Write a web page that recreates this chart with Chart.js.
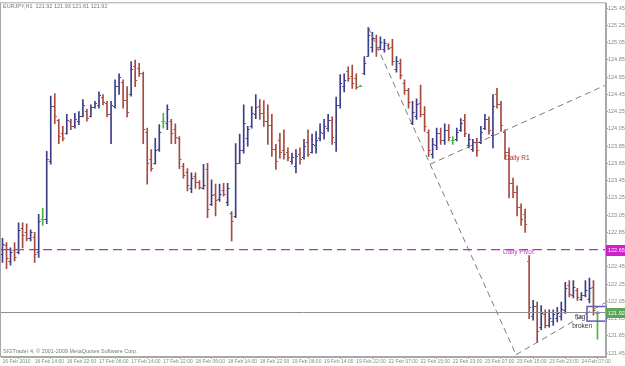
<!DOCTYPE html>
<html>
<head>
<meta charset="utf-8">
<script src="https://cdn.jsdelivr.net/npm/chart.js@4.4.1/dist/chart.umd.min.js"></script>
<style>
  html, body { margin: 0; padding: 0; background: #fff; }
  canvas { display: block; }
</style>
</head>
<body>
<canvas id="myChart" width="625" height="366"></canvas>
<script>
// EURJPY H1 bars, 16 Feb 2010 .. 24 Feb 2010
var opens = [
  122.60, 122.70, 122.52, 122.65, 122.62, 122.90, 122.85, 122.78, 122.80, 122.62,
  123.00, 123.00, 123.68, 124.32, 124.15, 124.00, 124.00, 124.14, 124.08, 124.14,
  124.20, 124.26, 124.20, 124.30, 124.33, 124.42, 124.35, 124.22, 124.32, 124.55,
  124.60, 124.38, 124.45, 124.78, 124.76, 124.70, 124.02, 123.70, 123.66, 123.82,
  124.14, 124.12, 124.14, 124.05, 123.95, 123.62, 123.55, 123.36, 123.50, 123.43,
  123.37, 123.58, 123.18, 123.30, 123.24, 123.34, 123.20, 123.08, 123.04, 123.66,
  123.80, 123.95, 124.08, 124.22, 124.32, 124.24, 124.14, 124.10, 123.82, 123.92,
  123.80, 123.78, 123.68, 123.62, 123.76, 123.72, 123.90, 123.78, 123.86, 123.94,
  124.00, 124.06, 124.15, 123.90, 124.33, 124.55, 124.72, 124.66, 124.64, 124.55,
  124.70, 124.90, 125.00, 125.10, 125.00, 124.98, 125.02, 125.00, 124.74, 124.82,
  124.58, 124.50, 124.12, 124.20, 124.35, 124.22, 124.02, 123.76, 123.86, 124.00,
  123.92, 124.04, 123.92, 123.93, 124.04, 124.15, 123.86, 123.82, 123.90, 123.90,
  124.06, 124.16, 123.98, 124.46, 124.34, 124.02, 123.78, 123.42, 123.32, 123.14,
  123.06, 122.52, 121.88, 122.00, 121.75, 121.90, 121.78, 121.82, 121.86, 121.88,
  121.95, 122.24, 122.12, 122.18, 122.08, 122.12, 122.08, 122.22, 121.92
];
var highs = [
  122.78, 122.73, 122.67, 122.73, 122.96, 122.96, 122.95, 122.88, 122.85, 123.06,
  123.13, 123.79, 124.43, 124.46, 124.16, 124.08, 124.22, 124.16, 124.23, 124.25,
  124.39, 124.28, 124.33, 124.37, 124.48, 124.45, 124.37, 124.37, 124.62, 124.69,
  124.62, 124.54, 124.83, 124.85, 124.81, 124.71, 124.06, 123.81, 123.94, 124.10,
  124.23, 124.33, 124.16, 124.11, 123.96, 123.65, 123.59, 123.54, 123.54, 123.45,
  123.64, 123.65, 123.46, 123.41, 123.41, 123.42, 123.42, 123.09, 123.88, 123.99,
  124.33, 124.08, 124.31, 124.45, 124.39, 124.38, 124.33, 124.22, 123.87, 124.00,
  124.04, 123.83, 123.77, 123.81, 123.83, 123.93, 124.04, 123.99, 124.02, 124.11,
  124.16, 124.22, 124.19, 124.42, 124.68, 124.69, 124.77, 124.79, 124.69, 124.56,
  124.89, 125.23, 125.17, 125.14, 125.12, 125.09, 125.04, 125.09, 124.89, 124.86,
  124.62, 124.52, 124.37, 124.40, 124.56, 124.31, 124.04, 123.94, 124.06, 124.06,
  124.11, 124.10, 123.96, 124.06, 124.17, 124.22, 123.99, 123.93, 123.94, 124.08,
  124.22, 124.19, 124.45, 124.52, 124.37, 124.04, 123.83, 123.48, 123.39, 123.18,
  123.12, 122.58, 122.06, 122.04, 122.00, 121.95, 121.95, 121.95, 121.98, 122.04,
  122.27, 122.29, 122.29, 122.20, 122.15, 122.29, 122.32, 122.29, 121.93
];
var lows = [
  122.50, 122.43, 122.47, 122.52, 122.60, 122.67, 122.75, 122.75, 122.50, 122.56,
  122.93, 122.95, 123.64, 124.11, 123.88, 123.91, 123.99, 124.04, 124.06, 124.10,
  124.19, 124.14, 124.19, 124.29, 124.29, 124.33, 124.19, 123.88, 124.29, 124.45,
  124.29, 124.19, 124.43, 124.54, 124.66, 123.88, 123.41, 123.56, 123.64, 123.79,
  124.06, 124.04, 123.88, 123.88, 123.59, 123.48, 123.33, 123.31, 123.36, 123.35,
  123.35, 123.02, 123.16, 123.04, 123.21, 123.27, 123.16, 122.75, 123.02, 123.65,
  123.77, 123.85, 124.06, 124.17, 124.16, 124.08, 123.87, 123.73, 123.58, 123.71,
  123.70, 123.68, 123.64, 123.54, 123.64, 123.70, 123.73, 123.77, 123.77, 123.91,
  123.93, 124.02, 123.87, 123.79, 124.29, 124.48, 124.60, 124.52, 124.51, 124.54,
  124.68, 124.89, 124.94, 124.89, 124.97, 124.94, 124.97, 124.79, 124.71, 124.63,
  124.45, 124.29, 124.10, 124.16, 124.19, 124.02, 123.73, 123.71, 123.81, 123.87,
  123.87, 123.91, 123.87, 123.91, 124.02, 123.96, 123.83, 123.79, 123.73, 123.88,
  124.04, 123.99, 123.83, 124.29, 124.02, 123.70, 123.25, 123.25, 123.04, 122.93,
  122.85, 121.85, 121.83, 121.57, 121.72, 121.74, 121.75, 121.77, 121.81, 121.83,
  121.91, 122.10, 122.09, 122.06, 122.06, 122.10, 122.03, 121.89, 121.61
];
var closes = [
  122.72, 122.55, 122.62, 122.56, 122.88, 122.82, 122.78, 122.85, 122.60, 122.98,
  123.00, 123.70, 124.32, 124.20, 123.97, 123.94, 124.15, 124.08, 124.17, 124.20,
  124.33, 124.18, 124.30, 124.35, 124.44, 124.36, 124.22, 124.33, 124.55, 124.65,
  124.38, 124.25, 124.75, 124.62, 124.70, 124.05, 123.65, 123.60, 123.80, 124.02,
  124.14, 124.28, 124.00, 123.96, 123.70, 123.52, 123.40, 123.48, 123.44, 123.38,
  123.40, 123.12, 123.28, 123.22, 123.30, 123.30, 123.36, 122.98, 123.65, 123.80,
  124.12, 124.05, 124.24, 124.30, 124.24, 124.14, 124.10, 123.82, 123.68, 123.78,
  123.76, 123.72, 123.72, 123.74, 123.70, 123.85, 123.76, 123.88, 123.92, 124.02,
  124.08, 124.15, 123.96, 124.33, 124.58, 124.62, 124.64, 124.58, 124.54, 124.55,
  124.82, 125.14, 125.10, 124.98, 125.06, 125.05, 124.99, 124.84, 124.84, 124.68,
  124.50, 124.36, 124.25, 124.34, 124.22, 124.08, 123.80, 123.88, 124.00, 123.92,
  124.04, 123.96, 123.92, 124.02, 124.12, 124.00, 123.93, 123.90, 123.80, 124.02,
  124.16, 124.04, 124.32, 124.34, 124.10, 123.78, 123.42, 123.32, 123.14, 123.00,
  122.95, 121.98, 122.00, 121.70, 121.92, 121.78, 121.86, 121.90, 121.92, 121.96,
  122.20, 122.14, 122.22, 122.10, 122.12, 122.18, 122.20, 121.95, 121.92
];

// one time label every 8 hourly bars
var timeLabels = ['16 Feb 2010', '16 Feb 14:00', '16 Feb 22:00', '17 Feb 06:00', '17 Feb 14:00',
  '17 Feb 22:00', '18 Feb 06:00', '18 Feb 14:00', '18 Feb 22:00', '19 Feb 06:00', '19 Feb 14:00',
  '19 Feb 22:00', '22 Feb 07:00', '22 Feb 15:00', '22 Feb 23:00', '23 Feb 07:00', '23 Feb 15:00',
  '23 Feb 23:00', '24 Feb 07:00'];
var priceTicks = [121.45, 121.65, 121.85, 122.05, 122.25, 122.45, 122.65, 122.85, 123.05, 123.25,
  123.45, 123.65, 123.85, 124.05, 124.25, 124.45, 124.65, 124.85, 125.05, 125.25, 125.45];

var pivotLevel = 122.65;
var lastPrice = 121.92;
// trend lines as [bar index, price]
var downLine = [[91, 125.23], [127.74, 121.43]];
var upperChannel = [[106.34, 123.64], [150.12, 124.56]];
var lowerChannel = [[127.74, 121.43], [150.12, 122.04]];

var FONT = "'Liberation Sans', 'DejaVu Sans', sans-serif";
var UP = '#3d3d88', DOWN = '#a64a40', DOJI = '#44b844';

function barColor(i) {
  if (closes[i] > opens[i]) return UP;
  if (closes[i] < opens[i]) return DOWN;
  return DOJI;
}
function pts(arr) {
  return arr.map(function (p) { return {x: p[0], y: p[1]}; });
}

var ctx = document.getElementById('myChart').getContext('2d');

// open/close ticks, frame and the terminal texts
var terminal = {
  id: 'terminal',
  beforeDraw: function (chart) {
    var c = chart.ctx;
    c.save();
    c.fillStyle = '#fff';
    c.fillRect(0, 0, chart.width, chart.height);
    c.restore();
  },
  afterDatasetsDraw: function (chart) {
    var c = chart.ctx, x = chart.scales.x, y = chart.scales.y, a = chart.chartArea;
    c.save();
    opens.forEach(function (o, i) {
      var px = x.getPixelForValue(i);
      c.fillStyle = barColor(i);
      c.fillRect(px - 2, Math.round(y.getPixelForValue(o)), 1.5, 1);
      c.fillRect(px + 0.5, Math.round(y.getPixelForValue(closes[i])), 1.5, 1);
    });

    // flag box
    c.strokeStyle = '#5c5cb4';
    c.lineWidth = 1.5;
    var bx = x.getPixelForValue(145.4), by = y.getPixelForValue(121.99);
    c.strokeRect(bx, by, a.right - bx, y.getPixelForValue(121.82) - by);

    c.font = '6.5px ' + FONT;
    c.textBaseline = 'middle';
    c.textAlign = 'left';
    c.fillStyle = '#b03030';
    c.fillText('Daily R1', x.getPixelForValue(125), y.getPixelForValue(123.71));
    c.fillStyle = '#c040c0';
    c.fillText('Daily Pivot', x.getPixelForValue(124.5), y.getPixelForValue(122.62));
    c.fillStyle = '#333';
    c.fillText('flag', x.getPixelForValue(142.4), y.getPixelForValue(121.87));
    c.fillText('broken', x.getPixelForValue(141.7), y.getPixelForValue(121.76));

    // frame
    c.strokeStyle = '#a8a8a8';
    c.lineWidth = 1;
    c.strokeRect(a.left - 0.5, a.top - 0.5, a.right - a.left, a.bottom - a.top);

    c.font = '5.5px ' + FONT;
    c.fillStyle = '#708070';
    c.fillText('EURJPY,H1  121.92 121.93 121.61 121.92', 3, 6);
    c.fillText('SIGTrader 4, \u00a9 2001-2009 MetaQuotes Software Corp.', 3, 351);

    // price labels on the axis
    var pp = Math.round(y.getPixelForValue(pivotLevel));
    c.fillStyle = '#cc22cc';
    c.fillRect(a.right, pp - 5, chart.width - a.right, 11);
    c.fillStyle = '#fff';
    c.fillText(pivotLevel.toFixed(2), a.right + 2, pp + 0.5);
    var lp = Math.round(y.getPixelForValue(lastPrice));
    c.fillStyle = '#5aa55a';
    c.fillRect(a.right, lp - 5, chart.width - a.right, 10);
    c.fillStyle = '#fff';
    c.fillText(lastPrice.toFixed(2), a.right + 2, lp);
    c.restore();
  }
};

var chart = new Chart(ctx, {
  type: 'bar',
  data: {
    datasets: [{
      type: 'line',
      data: pts([[-0.373, pivotLevel], [150.12, pivotLevel]]),
      borderColor: '#b030c8',
      borderWidth: 1.3,
      borderDash: [9, 5],
      pointRadius: 0
    }, {
      type: 'line',
      data: pts([[-0.373, lastPrice], [150.12, lastPrice]]),
      borderColor: '#8e8e8e',
      borderWidth: 1,
      pointRadius: 0
    }, {
      type: 'line',
      data: pts(downLine),
      borderColor: '#7c7c7c',
      borderWidth: 1,
      borderDash: [6, 4],
      pointRadius: 0
    }, {
      type: 'line',
      data: pts(upperChannel),
      borderColor: '#7c7c7c',
      borderWidth: 1,
      borderDash: [6, 4],
      pointRadius: 0
    }, {
      type: 'line',
      data: pts(lowerChannel),
      borderColor: '#7c7c7c',
      borderWidth: 1,
      borderDash: [6, 4],
      pointRadius: 0
    }, {
      // high-low range of each bar
      data: highs.map(function (h, i) { return {x: i, y: [lows[i], h]}; }),
      backgroundColor: highs.map(function (h, i) { return barColor(i); }),
      barThickness: 1,
      borderWidth: 0
    }]
  },
  plugins: [terminal],
  options: {
    responsive: false,
    animation: false,
    devicePixelRatio: 1,
    layout: { padding: { left: 1, top: 1, right: 0, bottom: 0 } },
    plugins: { legend: { display: false }, tooltip: { enabled: false } },
    scales: {
      x: {
        type: 'linear',
        min: -0.373,
        max: 150.12,
        offset: false,
        afterBuildTicks: function (s) {
          s.ticks = timeLabels.map(function (t, k) { return {value: k * 8}; });
        },
        afterFit: function (s) { s.height = 9; },
        ticks: {
          callback: function (v) { return timeLabels[v / 8]; },
          autoSkip: false,
          maxRotation: 0,
          align: 'start',
          padding: 0,
          color: '#7a907a',
          font: { family: FONT, size: 5 }
        },
        grid: { drawOnChartArea: false, tickLength: 2, color: '#a8a8a8' },
        border: { color: '#a8a8a8' }
      },
      y: {
        type: 'linear',
        position: 'right',
        min: 121.4039,
        max: 125.5076,
        beginAtZero: false,
        afterBuildTicks: function (s) {
          s.ticks = priceTicks.map(function (v) { return {value: v}; });
        },
        afterFit: function (s) { s.width = 19; },
        ticks: {
          callback: function (v) { return v.toFixed(2); },
          padding: 0,
          color: '#7a907a',
          font: { family: FONT, size: 5.5 }
        },
        grid: { drawOnChartArea: false, tickLength: 2, color: '#a8a8a8' },
        border: { color: '#a8a8a8' }
      }
    }
  }
});
</script>
</body>
</html>
